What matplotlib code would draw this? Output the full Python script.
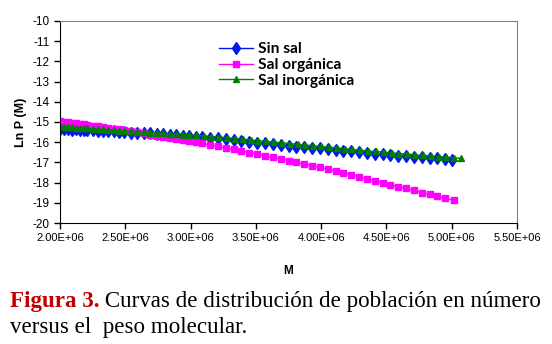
import matplotlib.pyplot as plt
from matplotlib.ticker import FuncFormatter, MultipleLocator
from matplotlib.lines import Line2D

# molecular weight (x 1e6) and Ln P(M) for each sample
m_sin = [2.00, 2.03, 2.06, 2.09, 2.12, 2.15, 2.18, 2.21, 2.25, 2.29, 2.33, 2.37,
         2.41, 2.45, 2.49, 2.54, 2.59, 2.64, 2.69, 2.74, 2.79, 2.84, 2.89, 2.94,
         2.99, 3.04, 3.09, 3.15, 3.21, 3.27, 3.33, 3.39, 3.45, 3.51, 3.57, 3.63,
         3.69, 3.75, 3.81, 3.87, 3.93, 3.99, 4.05, 4.11, 4.17, 4.23, 4.29, 4.35,
         4.41, 4.47, 4.53, 4.59, 4.65, 4.71, 4.77, 4.83, 4.89, 4.95, 5.00]
ln_sin = [-15.33, -15.36, -15.34, -15.38, -15.36, -15.40, -15.38, -15.42, -15.41,
          -15.44, -15.43, -15.47, -15.46, -15.50, -15.49, -15.52, -15.53, -15.56,
          -15.55, -15.59, -15.60, -15.63, -15.64, -15.67, -15.69, -15.72, -15.74,
          -15.78, -15.80, -15.85, -15.88, -15.93, -15.97, -16.02, -16.06, -16.11,
          -16.16, -16.17, -16.22, -16.25, -16.28, -16.30, -16.35, -16.37, -16.42,
          -16.45, -16.50, -16.52, -16.56, -16.59, -16.62, -16.66, -16.68, -16.71,
          -16.74, -16.78, -16.80, -16.84, -16.87]

m_org = [2.00, 2.03, 2.06, 2.09, 2.12, 2.15, 2.18, 2.21, 2.25, 2.29, 2.33, 2.37,
         2.41, 2.45, 2.49, 2.54, 2.59, 2.64, 2.69, 2.74, 2.79, 2.84, 2.89, 2.94,
         2.99, 3.04, 3.09, 3.15, 3.21, 3.27, 3.33, 3.39, 3.45, 3.51, 3.57, 3.63,
         3.69, 3.75, 3.81, 3.87, 3.93, 3.99, 4.05, 4.11, 4.17, 4.23, 4.29, 4.35,
         4.41, 4.47, 4.53, 4.59, 4.65, 4.71, 4.77, 4.83, 4.89, 4.95, 5.02]
ln_org = [-14.95, -14.98, -15.01, -15.03, -15.06, -15.09, -15.12, -15.15, -15.18,
          -15.22, -15.26, -15.30, -15.34, -15.37, -15.41, -15.46, -15.51, -15.56,
          -15.62, -15.67, -15.72, -15.78, -15.83, -15.89, -15.94, -16.00, -16.06,
          -16.13, -16.21, -16.29, -16.36, -16.44, -16.52, -16.59, -16.67, -16.75,
          -16.83, -16.91, -17.00, -17.08, -17.16, -17.24, -17.33, -17.42, -17.52,
          -17.61, -17.71, -17.80, -17.90, -18.00, -18.10, -18.20, -18.29, -18.39,
          -18.49, -18.58, -18.68, -18.77, -18.88]

m_inorg = [2.00, 2.03, 2.06, 2.09, 2.12, 2.15, 2.18, 2.21, 2.25, 2.29, 2.33, 2.37,
           2.41, 2.45, 2.49, 2.54, 2.59, 2.64, 2.69, 2.74, 2.79, 2.84, 2.89, 2.94,
           2.99, 3.04, 3.10, 3.16, 3.22, 3.28, 3.34, 3.40, 3.46, 3.52, 3.58, 3.64,
           3.70, 3.76, 3.82, 3.88, 3.94, 4.00, 4.06, 4.12, 4.18, 4.24, 4.30, 4.36,
           4.42, 4.48, 4.54, 4.60, 4.66, 4.72, 4.78, 4.84, 4.90, 4.96, 5.02, 5.07]
ln_inorg = [-15.22, -15.23, -15.25, -15.26, -15.28, -15.29, -15.31, -15.32, -15.34,
            -15.36, -15.37, -15.39, -15.41, -15.43, -15.44, -15.46, -15.48, -15.50,
            -15.52, -15.54, -15.56, -15.58, -15.60, -15.62, -15.64, -15.66, -15.69,
            -15.72, -15.75, -15.78, -15.82, -15.85, -15.89, -15.92, -15.96, -16.00,
            -16.03, -16.07, -16.11, -16.14, -16.18, -16.21, -16.25, -16.28, -16.32,
            -16.36, -16.40, -16.43, -16.46, -16.50, -16.53, -16.56, -16.59, -16.62,
            -16.65, -16.68, -16.71, -16.74, -16.77, -16.80]

labels = ["Sin sal", "Sal orgánica", "Sal inorgánica"]

fig = plt.figure(figsize=(5.52, 3.44), dpi=100)
ax = fig.add_axes([0.1087, 0.3517, 0.8279, 0.5873])

ax.plot([m * 1e6 for m in m_sin], ln_sin, color="#0018f0", marker="d",
        markersize=6, linewidth=1, label=labels[0])
ax.plot([m * 1e6 for m in m_org], ln_org, color="#ff00ff", marker="s",
        markersize=5, linewidth=1, label=labels[1])
ax.plot([m * 1e6 for m in m_inorg], ln_inorg, color="#008000", marker="^",
        markersize=4.5, linewidth=1, label=labels[2])

ax.set_xlim(2.0e6, 5.5e6)
ax.set_ylim(-20, -10)
ax.xaxis.set_major_locator(MultipleLocator(0.5e6))
ax.yaxis.set_major_locator(MultipleLocator(1))
ax.xaxis.set_major_formatter(FuncFormatter(lambda v, p: f"{v:.2E}"))
ax.yaxis.set_major_formatter(FuncFormatter(lambda v, p: f"{int(round(v))}"))

for side in ["top", "right"]:
    ax.spines[side].set_color("#808080")
for side in ["left", "bottom"]:
    ax.spines[side].set_color("black")
ax.tick_params(direction="out", length=4, width=1, labelsize=8.5,
               top=False, right=False)
for lbl in ax.get_xticklabels() + ax.get_yticklabels():
    lbl.set_family("Liberation Sans")
ax.tick_params(axis="x", pad=3, labelsize=8)

ax.set_xlabel("M", fontsize=8.5, fontweight="bold", family="Liberation Sans",
              labelpad=16)
ax.set_ylabel("Ln P (M)", fontsize=9, fontweight="bold",
              family="Liberation Sans", labelpad=4)

handles = [
    Line2D([], [], color="#0018f0", marker="d", markersize=6, linewidth=1),
    Line2D([], [], color="#ff00ff", marker="s", markersize=5, linewidth=1),
    Line2D([], [], color="#008000", marker="^", markersize=4.5, linewidth=1),
]
leg = fig.legend(handles, labels, loc="upper left",
                 bbox_to_anchor=(0.383, 0.9), frameon=False,
                 prop={"family": "Lato", "weight": "bold", "size": 11.2},
                 handlelength=2.2, handletextpad=0.3, labelspacing=0.12,
                 borderpad=0, markerscale=1)

# caption under the chart
fig.canvas.draw()
renderer = fig.canvas.get_renderer()
t1 = fig.text(0.018, 0.108, "Figura 3.", color="#c00000", fontsize=16.6,
              fontweight="bold", family="Liberation Serif")
bb = t1.get_window_extent(renderer=renderer)
fig.text(bb.x1 / fig.bbox.width, 0.108,
         " Curvas de distribución de población en número",
         color="black", fontsize=16.6, family="Liberation Serif")
fig.text(0.018, 0.032, "versus el  peso molecular.", color="black",
         fontsize=16.6, family="Liberation Serif")

fig.savefig("out.png", dpi=100)
